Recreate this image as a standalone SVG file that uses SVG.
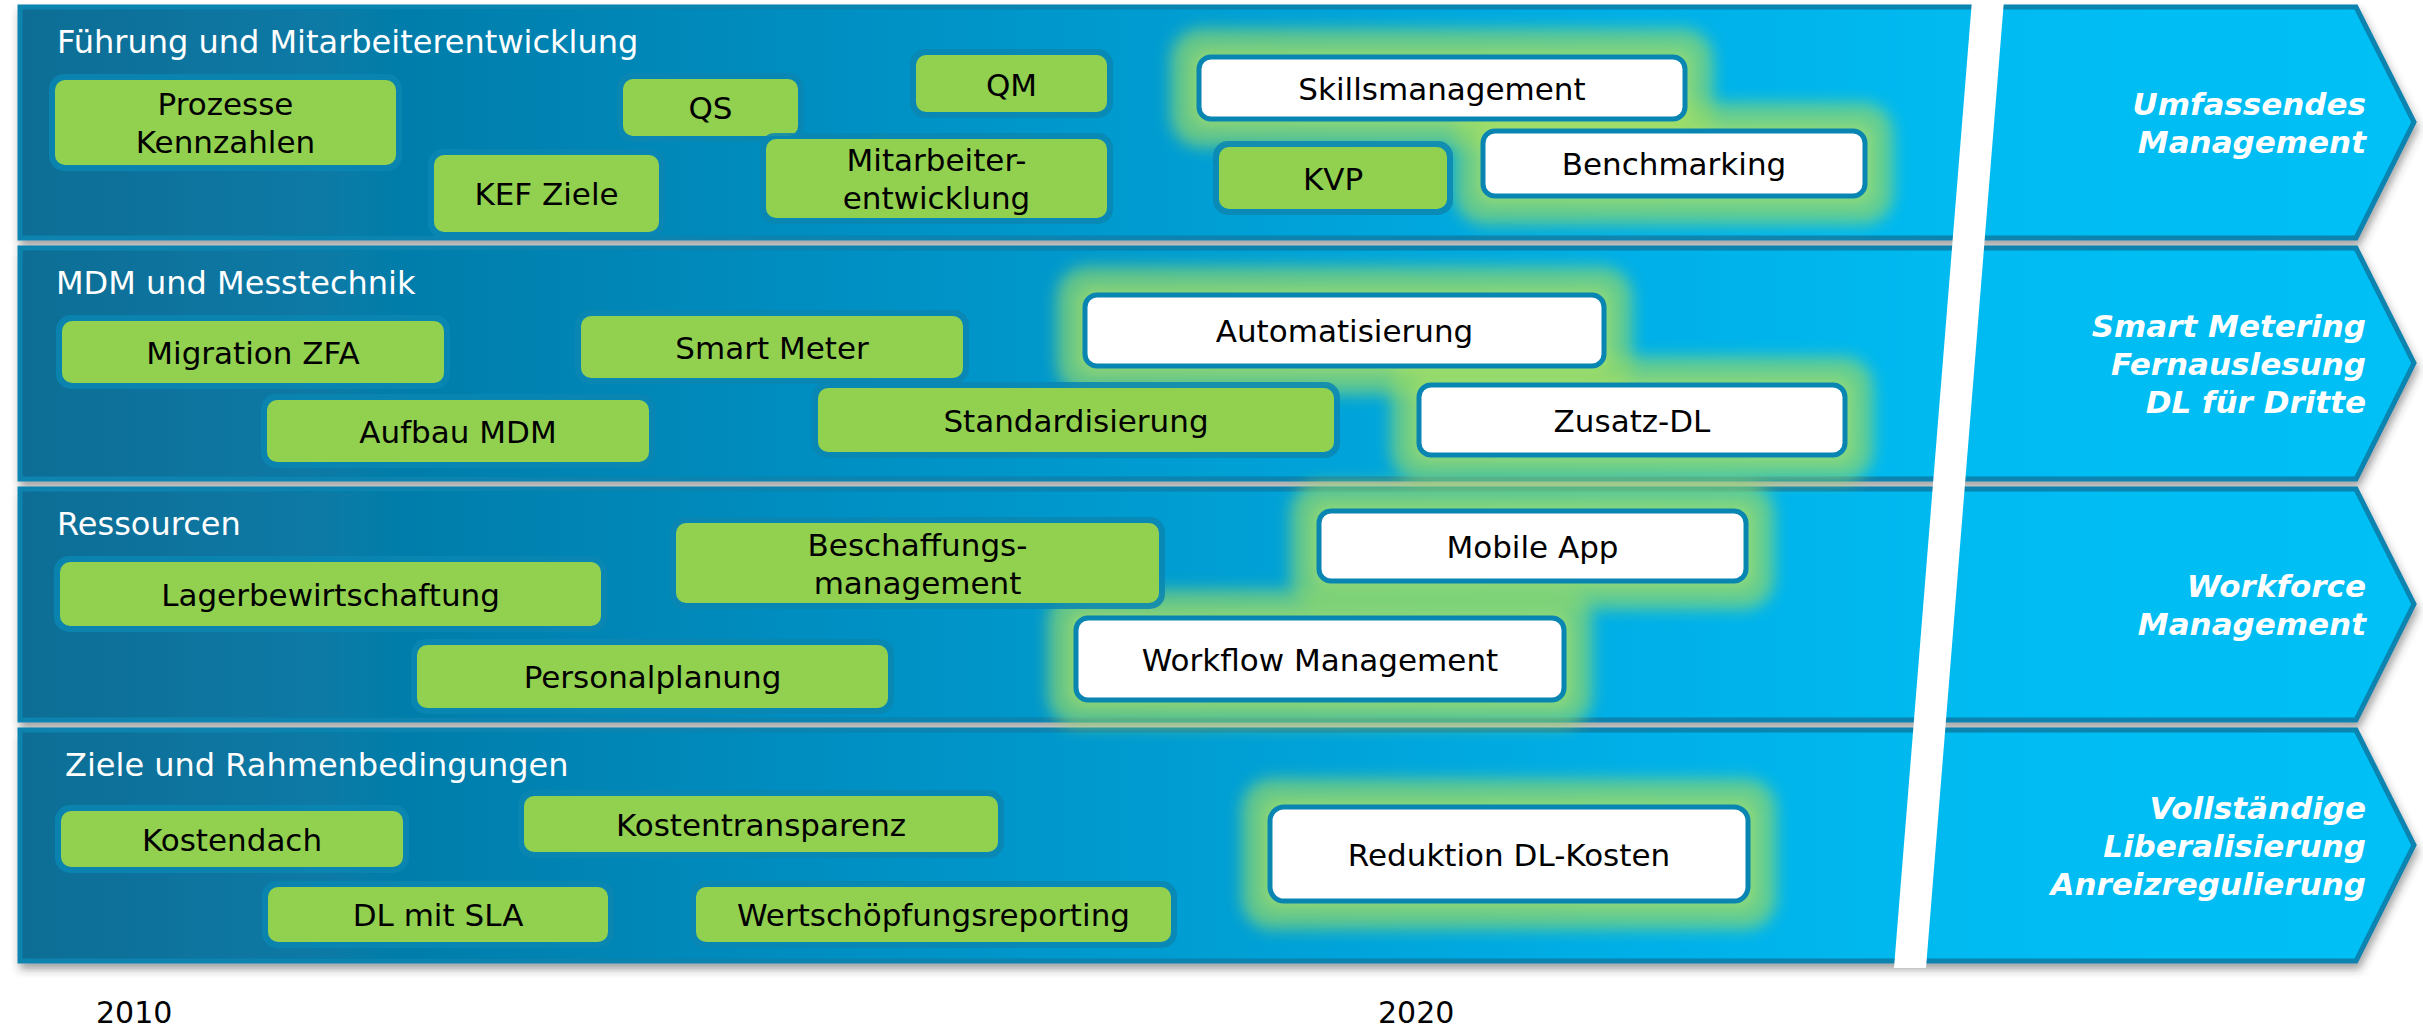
<svg xmlns="http://www.w3.org/2000/svg" width="2423" height="1028" viewBox="0 0 2423 1028">
  <defs>
    <linearGradient id="bandGrad" gradientUnits="userSpaceOnUse" x1="20" y1="0" x2="2414" y2="0">
      <stop offset="0" stop-color="#0b6d95"/>
      <stop offset="0.35" stop-color="#0090c3"/>
      <stop offset="0.68" stop-color="#00b0e8"/>
      <stop offset="0.82" stop-color="#00bbf1"/>
      <stop offset="1" stop-color="#00c0f5"/>
    </linearGradient>
    <filter id="shadow" x="-2%" y="-10%" width="104%" height="130%">
      <feDropShadow dx="2" dy="6" stdDeviation="4" flood-color="#333" flood-opacity="0.45"/>
    </filter>
    <filter id="blur" x="-20%" y="-40%" width="140%" height="180%">
      <feGaussianBlur stdDeviation="8"/>
    </filter>
    <filter id="blurInner" x="-20%" y="-40%" width="140%" height="180%">
      <feGaussianBlur stdDeviation="6"/>
    </filter>
  </defs>
  <style>
    .band { fill: url(#bandGrad); stroke: #0783af; stroke-width: 5; stroke-linejoin: miter; filter: url(#shadow); }
    .title { font-family: "DejaVu Sans", Verdana, sans-serif; font-size: 32px; fill: #ffffff; }
    .goal { font-family: "DejaVu Sans", Verdana, sans-serif; font-size: 31px; font-weight: bold; font-style: italic; fill: #ffffff; text-anchor: end; }
    .glow { fill: #90d86a; opacity: 0.72; filter: url(#blur); }
    .glow-in { fill: #c8ec5e; opacity: 0.35; filter: url(#blurInner); }
    .halo { fill: #0a86b2; opacity: 0.85; }
    .green { fill: #92d050; }
    .white { fill: #ffffff; stroke: #0985b2; stroke-width: 5; }
    .lbl { font-family: "DejaVu Sans", Verdana, sans-serif; font-size: 31px; fill: #000000; text-anchor: middle; }
    .year { font-family: "DejaVu Sans", Verdana, sans-serif; font-size: 30px; fill: #000000; }
  </style>

  <!-- swim-lane arrows -->
  <g id="lanes">
    <polygon class="band" points="20,7 2356,7 2414,122 2356,238 20,238"/>
    <polygon class="band" points="20,248 2356,248 2414,363 2356,479 20,479"/>
    <polygon class="band" points="20,489 2356,489 2414,604 2356,720 20,720"/>
    <polygon class="band" points="20,730 2356,730 2414,845 2356,961 20,961"/>
  </g>

  <!-- soft highlight behind the target items -->
  <g id="glows">
    <rect class="glow" x="1171" y="29" width="542" height="118" rx="30"/>
    <rect class="glow" x="1455" y="103" width="438" height="121" rx="30"/>
    <rect class="glow" x="1057" y="267" width="575" height="127" rx="30"/>
    <rect class="glow" x="1391" y="357" width="482" height="124" rx="30"/>
    <rect class="glow" x="1291" y="483" width="483" height="126" rx="30"/>
    <rect class="glow" x="1048" y="590" width="544" height="136" rx="30"/>
    <rect class="glow" x="1242" y="779" width="534" height="150" rx="30"/>
    <rect class="glow-in" x="1191" y="49" width="502" height="78" rx="18"/>
    <rect class="glow-in" x="1475" y="123" width="398" height="81" rx="18"/>
    <rect class="glow-in" x="1077" y="287" width="535" height="87" rx="18"/>
    <rect class="glow-in" x="1411" y="377" width="442" height="86" rx="18"/>
    <rect class="glow-in" x="1311" y="503" width="443" height="86" rx="18"/>
    <rect class="glow-in" x="1068" y="610" width="504" height="98" rx="18"/>
    <rect class="glow-in" x="1262" y="799" width="494" height="110" rx="18"/>
  </g>

  <!-- timeline break -->
  <polygon id="break" points="1972,0 2004,0 1926,968 1894,968" fill="#ffffff"/>

  <!-- lane titles -->
  <g id="lane-titles">
    <text class="title" x="57" y="53">Führung und Mitarbeiterentwicklung</text>
    <text class="title" x="56" y="294">MDM und Messtechnik</text>
    <text class="title" x="57" y="535">Ressourcen</text>
    <text class="title" x="65" y="776">Ziele und Rahmenbedingungen</text>
  </g>

  <!-- goals at the arrow heads -->
  <g id="goals">
    <text class="goal"><tspan x="2366" y="115">Umfassendes</tspan><tspan x="2366" y="153">Management</tspan></text>
    <text class="goal"><tspan x="2366" y="337">Smart Metering</tspan><tspan x="2366" y="375">Fernauslesung</tspan><tspan x="2366" y="413">DL für Dritte</tspan></text>
    <text class="goal"><tspan x="2366" y="597">Workforce</tspan><tspan x="2366" y="635">Management</tspan></text>
    <text class="goal"><tspan x="2366" y="819">Vollständige</tspan><tspan x="2366" y="857">Liberalisierung</tspan><tspan x="2366" y="895">Anreizregulierung</tspan></text>
  </g>

  <!-- lane 1: Führung und Mitarbeiterentwicklung -->
  <g id="n-prozesse">
    <rect class="halo" x="49" y="74" width="353" height="97" rx="15"/>
    <rect class="green" x="55" y="80" width="341" height="85" rx="10"/>
    <text class="lbl"><tspan x="225.5" y="115">Prozesse</tspan><tspan x="225.5" y="153">Kennzahlen</tspan></text>
  </g>
  <g id="n-qs">
    <rect class="halo" x="617" y="73" width="187" height="69" rx="15"/>
    <rect class="green" x="623" y="79" width="175" height="57" rx="10"/>
    <text class="lbl" x="710.5" y="119">QS</text>
  </g>
  <g id="n-kef">
    <rect class="halo" x="428" y="149" width="237" height="89" rx="15"/>
    <rect class="green" x="434" y="155" width="225" height="77" rx="10"/>
    <text class="lbl" x="546.5" y="205">KEF Ziele</text>
  </g>
  <g id="n-qm">
    <rect class="halo" x="910" y="49" width="203" height="69" rx="15"/>
    <rect class="green" x="916" y="55" width="191" height="57" rx="10"/>
    <text class="lbl" x="1011.5" y="96">QM</text>
  </g>
  <g id="n-mitarbeiter">
    <rect class="halo" x="760" y="133" width="353" height="91" rx="15"/>
    <rect class="green" x="766" y="139" width="341" height="79" rx="10"/>
    <text class="lbl"><tspan x="936.5" y="171">Mitarbeiter-</tspan><tspan x="936.5" y="209">entwicklung</tspan></text>
  </g>
  <g id="n-skills">
    <rect class="white" x="1199" y="57" width="486" height="62" rx="12"/>
    <text class="lbl" x="1442" y="100">Skillsmanagement</text>
  </g>
  <g id="n-kvp">
    <rect class="halo" x="1213" y="141" width="240" height="74" rx="15"/>
    <rect class="green" x="1219" y="147" width="228" height="62" rx="10"/>
    <text class="lbl" x="1333" y="190">KVP</text>
  </g>
  <g id="n-benchmarking">
    <rect class="white" x="1483" y="131" width="382" height="65" rx="12"/>
    <text class="lbl" x="1674" y="175">Benchmarking</text>
  </g>

  <!-- lane 2: MDM und Messtechnik -->
  <g id="n-migration">
    <rect class="halo" x="56" y="315" width="394" height="74" rx="15"/>
    <rect class="green" x="62" y="321" width="382" height="62" rx="10"/>
    <text class="lbl" x="253" y="364">Migration ZFA</text>
  </g>
  <g id="n-aufbau">
    <rect class="halo" x="261" y="394" width="394" height="74" rx="15"/>
    <rect class="green" x="267" y="400" width="382" height="62" rx="10"/>
    <text class="lbl" x="458" y="443">Aufbau MDM</text>
  </g>
  <g id="n-smartmeter">
    <rect class="halo" x="575" y="310" width="394" height="74" rx="15"/>
    <rect class="green" x="581" y="316" width="382" height="62" rx="10"/>
    <text class="lbl" x="772" y="359">Smart Meter</text>
  </g>
  <g id="n-automatisierung">
    <rect class="white" x="1085" y="295" width="519" height="71" rx="12"/>
    <text class="lbl" x="1344.5" y="342">Automatisierung</text>
  </g>
  <g id="n-standardisierung">
    <rect class="halo" x="812" y="382" width="528" height="76" rx="15"/>
    <rect class="green" x="818" y="388" width="516" height="64" rx="10"/>
    <text class="lbl" x="1076" y="432">Standardisierung</text>
  </g>
  <g id="n-zusatz">
    <rect class="white" x="1419" y="385" width="426" height="70" rx="12"/>
    <text class="lbl" x="1632" y="432">Zusatz-DL</text>
  </g>

  <!-- lane 3: Ressourcen -->
  <g id="n-lager">
    <rect class="halo" x="54" y="556" width="553" height="76" rx="15"/>
    <rect class="green" x="60" y="562" width="541" height="64" rx="10"/>
    <text class="lbl" x="330.5" y="606">Lagerbewirtschaftung</text>
  </g>
  <g id="n-beschaffung">
    <rect class="halo" x="670" y="517" width="495" height="92" rx="15"/>
    <rect class="green" x="676" y="523" width="483" height="80" rx="10"/>
    <text class="lbl"><tspan x="917.5" y="555.5">Beschaffungs-</tspan><tspan x="917.5" y="593.5">management</tspan></text>
  </g>
  <g id="n-personal">
    <rect class="halo" x="411" y="639" width="483" height="75" rx="15"/>
    <rect class="green" x="417" y="645" width="471" height="63" rx="10"/>
    <text class="lbl" x="652.5" y="688">Personalplanung</text>
  </g>
  <g id="n-mobile">
    <rect class="white" x="1319" y="511" width="427" height="70" rx="12"/>
    <text class="lbl" x="1532.5" y="558">Mobile App</text>
  </g>
  <g id="n-workflow">
    <rect class="white" x="1076" y="618" width="488" height="82" rx="12"/>
    <text class="lbl" x="1320" y="671">Workflow Management</text>
  </g>

  <!-- lane 4: Ziele und Rahmenbedingungen -->
  <g id="n-kostendach">
    <rect class="halo" x="55" y="805" width="354" height="68" rx="15"/>
    <rect class="green" x="61" y="811" width="342" height="56" rx="10"/>
    <text class="lbl" x="232" y="851">Kostendach</text>
  </g>
  <g id="n-kostentransparenz">
    <rect class="halo" x="518" y="790" width="486" height="68" rx="15"/>
    <rect class="green" x="524" y="796" width="474" height="56" rx="10"/>
    <text class="lbl" x="761" y="836">Kostentransparenz</text>
  </g>
  <g id="n-dlsla">
    <rect class="halo" x="262" y="881" width="352" height="67" rx="15"/>
    <rect class="green" x="268" y="887" width="340" height="55" rx="10"/>
    <text class="lbl" x="438" y="926">DL mit SLA</text>
  </g>
  <g id="n-wertschoepfung">
    <rect class="halo" x="690" y="881" width="487" height="67" rx="15"/>
    <rect class="green" x="696" y="887" width="475" height="55" rx="10"/>
    <text class="lbl" x="933.5" y="926">Wertschöpfungsreporting</text>
  </g>
  <g id="n-reduktion">
    <rect class="white" x="1270" y="807" width="478" height="94" rx="14"/>
    <text class="lbl" x="1509" y="866">Reduktion DL-Kosten</text>
  </g>

  <g id="connectors"/>

  <!-- time axis -->
  <g id="axis">
    <text class="year" x="96" y="1023">2010</text>
    <text class="year" x="1378" y="1023">2020</text>
  </g>
</svg>
